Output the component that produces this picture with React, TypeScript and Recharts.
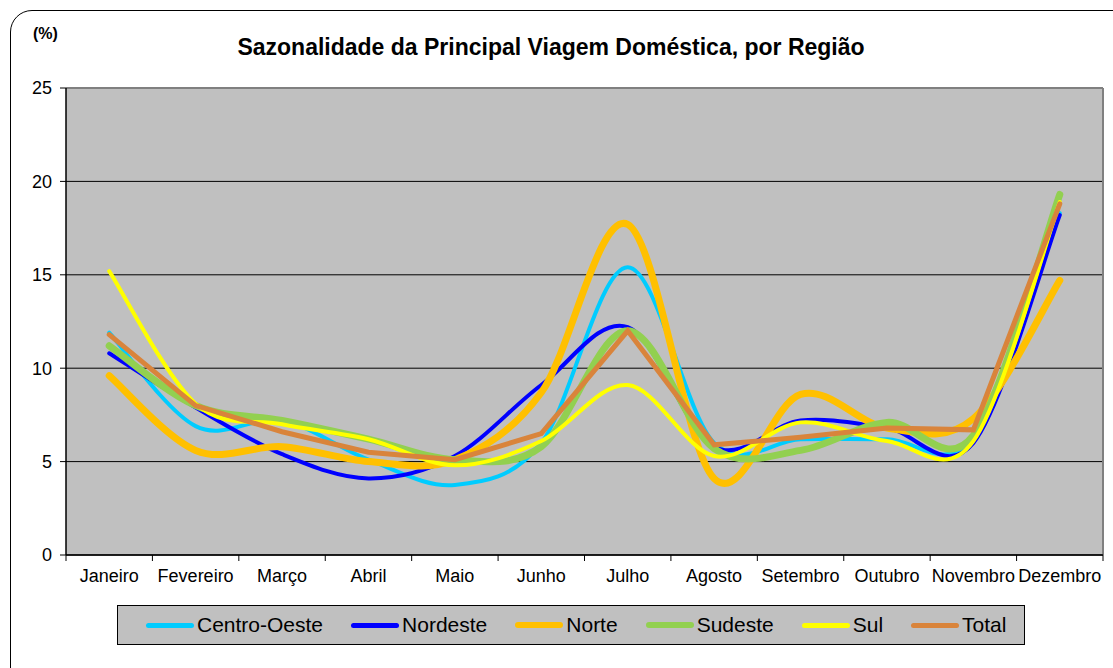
import React from "react";
import {
  LineChart,
  Line,
  XAxis,
  YAxis,
  CartesianGrid,
  ReferenceLine,
} from "recharts";

const months = [
  "Janeiro",
  "Fevereiro",
  "Março",
  "Abril",
  "Maio",
  "Junho",
  "Julho",
  "Agosto",
  "Setembro",
  "Outubro",
  "Novembro",
  "Dezembro",
];

const centroOeste = [11.9, 6.9, 7.2, 5.1, 3.75, 6.0, 15.4, 6.0, 6.2, 6.2, 6.3, 18.3];
const nordeste = [10.8, 7.9, 5.4, 4.1, 5.3, 9.1, 12.2, 5.8, 7.2, 6.8, 6.0, 18.2];
const norte = [9.6, 5.6, 5.8, 5.0, 5.1, 8.7, 17.7, 4.1, 8.6, 6.8, 7.3, 14.7];
const sudeste = [11.2, 8.0, 7.2, 6.2, 5.1, 5.8, 12.0, 5.7, 5.6, 7.1, 6.4, 19.3];
const sul = [15.2, 8.1, 7.0, 6.2, 4.8, 6.1, 9.1, 5.3, 7.1, 6.1, 6.1, 18.9];
const total = [11.8, 8.0, 6.6, 5.5, 5.1, 6.5, 12.0, 5.9, 6.3, 6.8, 6.7, 18.8];

const yTicks = [0, 5, 10, 15, 20, 25];

const series = [
  { key: "co", name: "Centro-Oeste", color: "#00CCFF", width: 4, smooth: true },
  { key: "ne", name: "Nordeste", color: "#0000FF", width: 4, smooth: true },
  { key: "no", name: "Norte", color: "#FFC000", width: 7, smooth: true },
  { key: "se", name: "Sudeste", color: "#92D050", width: 7, smooth: true },
  { key: "sul", name: "Sul", color: "#FFFF00", width: 4, smooth: true },
  { key: "total", name: "Total", color: "#D9843B", width: 5, smooth: false },
];

const data = months.map((m, i) => ({
  x: i + 0.5,
  month: m,
  co: centroOeste[i],
  ne: nordeste[i],
  no: norte[i],
  se: sudeste[i],
  sul: sul[i],
  total: total[i],
}));

const W = 1113;
const H = 668;
const PLOT_LEFT = 66;
const PLOT_RIGHT = 1103;
const STEP = (PLOT_RIGHT - PLOT_LEFT) / months.length;
const FONT = "'Liberation Sans', Arial, sans-serif";

// Excel style smoothing (Catmull-Rom through the points)
const excelCurve = (context: any) => {
  let pts: number[][] = [];
  return {
    areaStart() {},
    areaEnd() {},
    lineStart() {
      pts = [];
    },
    lineEnd() {
      if (!pts.length) return;
      context.moveTo(pts[0][0], pts[0][1]);
      for (let i = 0; i < pts.length - 1; i++) {
        const p0 = pts[i - 1] || pts[i];
        const p1 = pts[i];
        const p2 = pts[i + 1];
        const p3 = pts[i + 2] || p2;
        context.bezierCurveTo(
          p1[0] + (p2[0] - p0[0]) / 6,
          p1[1] + (p2[1] - p0[1]) / 6,
          p2[0] - (p3[0] - p1[0]) / 6,
          p2[1] - (p3[1] - p1[1]) / 6,
          p2[0],
          p2[1]
        );
      }
    },
    point(x: number, y: number) {
      pts.push([x, y]);
    },
  };
};

const MonthTick = ({ x, y, payload }: any) => {
  const i = payload.value;
  if (i >= months.length) return <g />;
  return (
    <text
      x={x + STEP / 2}
      y={y}
      dy={19}
      textAnchor="middle"
      fill="#000"
      fontSize={18}
      fontFamily={FONT}
    >
      {months[i]}
    </text>
  );
};

const App: React.FC = () => {
  return (
    <div
      style={{
        position: "absolute",
        left: 0,
        top: 0,
        width: W,
        height: H,
        overflow: "hidden",
        background: "#fff",
        fontFamily: FONT,
      }}
    >
      <div
        style={{
          position: "absolute",
          left: 10,
          top: 10,
          width: 1130,
          height: 690,
          border: "1.5px solid #000",
          borderRadius: 22,
        }}
      />
      <div
        style={{
          position: "absolute",
          left: 33,
          top: 25,
          fontSize: 16,
          fontWeight: "bold",
        }}
      >
        (%)
      </div>
      <div
        style={{
          position: "absolute",
          left: 0,
          width: 1102,
          top: 34,
          textAlign: "center",
          fontSize: 23,
          fontWeight: "bold",
        }}
      >
        Sazonalidade da Principal Viagem Doméstica, por Região
      </div>
      <div style={{ position: "absolute", left: 0, top: 0 }}>
        <LineChart
          width={W}
          height={H}
          data={data}
          margin={{ top: 88, right: W - PLOT_RIGHT, bottom: 83, left: PLOT_LEFT - 40 }}
        >
          <CartesianGrid vertical={false} stroke="#000" fill="#C0C0C0" fillOpacity={1} />
          <XAxis
            dataKey="x"
            type="number"
            domain={[0, months.length]}
            ticks={months.map((_, i) => i).concat([months.length])}
            tick={<MonthTick />}
            tickSize={6}
            tickLine={{ stroke: "#000" }}
            axisLine={{ stroke: "#000", strokeWidth: 1.5 }}
            height={30}
            interval={0}
          />
          <YAxis
            type="number"
            domain={[0, 25]}
            ticks={yTicks}
            width={40}
            tickSize={6}
            tickMargin={8}
            tickLine={{ stroke: "#000" }}
            axisLine={{ stroke: "#000", strokeWidth: 1.5 }}
            tick={{ fill: "#000", fontSize: 18, fontFamily: FONT }}
            interval={0}
          />
          <ReferenceLine y={25} stroke="#808080" strokeWidth={2} />
          <ReferenceLine x={months.length} stroke="#808080" strokeWidth={2} />
          {series.map((s) => (
            <Line
              key={s.key}
              dataKey={s.key}
              name={s.name}
              type={s.smooth ? (excelCurve as any) : "linear"}
              stroke={s.color}
              strokeWidth={s.width}
              dot={false}
              activeDot={false}
              strokeLinecap="round"
              isAnimationActive={false}
            />
          ))}
        </LineChart>
      </div>
      <div
        style={{
          position: "absolute",
          left: 117,
          top: 605,
          width: 908,
          height: 40,
          background: "#C0C0C0",
          border: "1px solid #000",
          display: "flex",
          alignItems: "center",
          paddingLeft: 28,
          boxSizing: "border-box",
          whiteSpace: "nowrap",
        }}
      >
        {series.map((s) => (
          <div
            key={s.key}
            style={{
              display: "flex",
              alignItems: "center",
              marginRight: 28,
              flexShrink: 0,
            }}
          >
            <div
              style={{
                width: 48,
                height: s.width > 5 ? 6 : 5,
                borderRadius: 3,
                background: s.color,
                marginRight: 3,
                flexShrink: 0,
              }}
            />
            <span style={{ fontSize: 21, color: "#000" }}>{s.name}</span>
          </div>
        ))}
      </div>
    </div>
  );
};

export default App;
